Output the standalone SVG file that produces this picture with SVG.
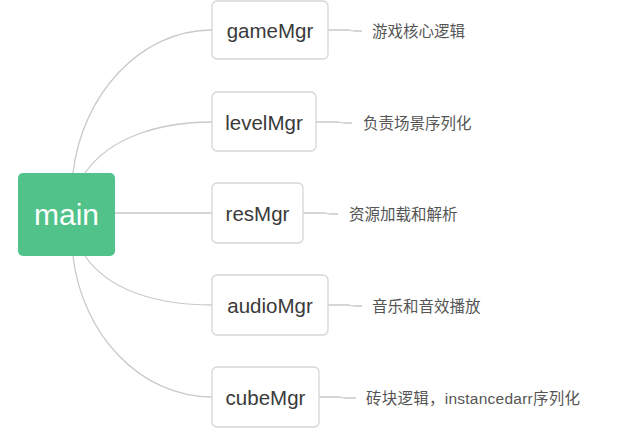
<svg xmlns="http://www.w3.org/2000/svg" width="642" height="446" viewBox="0 0 642 446">
<style>
.conn{fill:none;stroke:#c9c9c9;stroke-width:1.3}
.box{fill:#ffffff;stroke:#d6d6d6;stroke-width:1.3}
.nt{font-family:"Liberation Sans",Arial,sans-serif;font-size:20.5px;fill:#3a3a3a;text-anchor:middle;dominant-baseline:central}
.lb{font-family:"Liberation Sans","Noto Sans CJK SC",sans-serif;font-size:15.5px;fill:#555555;dominant-baseline:central}
</style>
<rect width="642" height="446" fill="#ffffff"/>
<g id="connectors">
<path class="conn" d="M73,173 C82,95 140,30 212,30"/>
<path class="conn" d="M85,173 C110,137 160,122 212,122"/>
<path class="conn" d="M115,213 H212"/>
<path class="conn" d="M85,256 C110,292 160,305 212,305"/>
<path class="conn" d="M73,256 C82,334 140,397 212,397"/>
<path class="conn" d="M328,30 H349 Q352,31 355,31 H362"/>
<path class="conn" d="M316,122 H339 Q342,123 345,123 H352"/>
<path class="conn" d="M303,213 H325 Q328,214 331,214 H338"/>
<path class="conn" d="M328,305 H349 Q352,306 355,306 H362"/>
<path class="conn" d="M319,397 H340 Q343,398 346,398 H356"/>
</g>
<g id="main">
<rect x="18" y="173" width="97" height="83" rx="5" fill="#50c28a"/>
<text x="66.5" y="214" font-family="'Liberation Sans',Arial,sans-serif" font-size="30" fill="#ffffff" text-anchor="middle" dominant-baseline="central">main</text>
</g>
<g id="gameMgr">
<rect class="box" x="212" y="1" width="116" height="58" rx="5"/>
<text class="nt" x="270" y="30">gameMgr</text>
</g>
<g id="levelMgr">
<rect class="box" x="212" y="92" width="104" height="59" rx="5"/>
<text class="nt" x="264" y="122">levelMgr</text>
</g>
<g id="resMgr">
<rect class="box" x="212" y="183" width="91" height="60" rx="5"/>
<text class="nt" x="257.5" y="213">resMgr</text>
</g>
<g id="audioMgr">
<rect class="box" x="212" y="275" width="116" height="60" rx="5"/>
<text class="nt" x="270" y="305">audioMgr</text>
</g>
<g id="cubeMgr">
<rect class="box" x="212" y="367" width="107" height="60" rx="5"/>
<text class="nt" x="265.5" y="397">cubeMgr</text>
</g>
<g id="labels">
<text class="lb" x="372" y="31">游戏核心逻辑</text>
<text class="lb" x="363" y="123">负责场景序列化</text>
<text class="lb" x="349" y="214">资源加载和解析</text>
<text class="lb" x="372" y="306">音乐和音效播放</text>
<text class="lb" x="366" y="398" textLength="214" lengthAdjust="spacing">砖块逻辑，instancedarr序列化</text>
</g>
</svg>
